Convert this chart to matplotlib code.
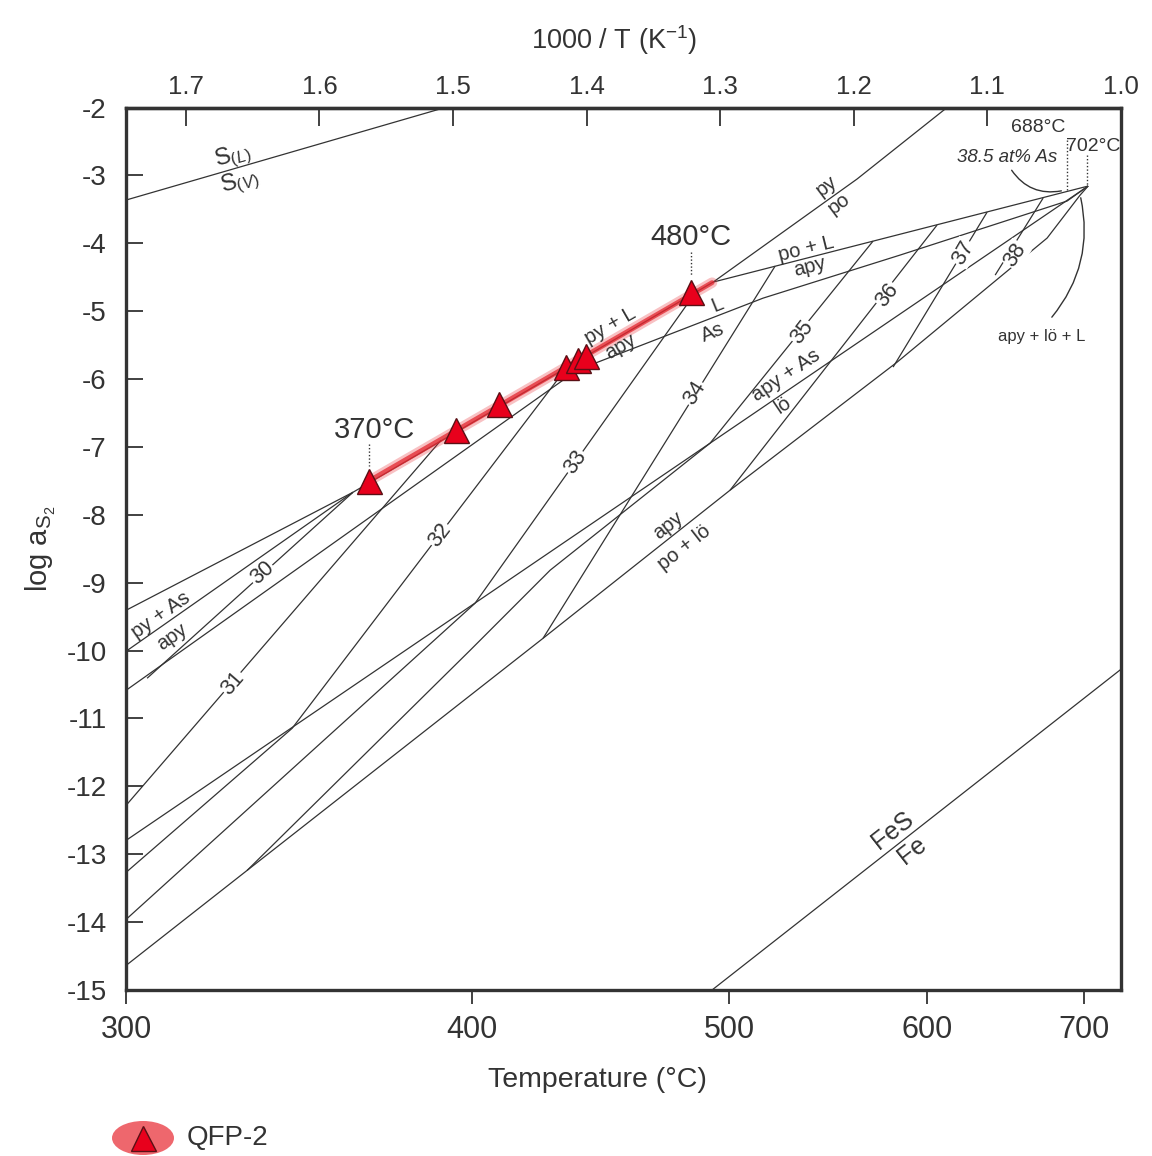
import matplotlib
matplotlib.use('Agg')
import matplotlib.pyplot as plt
from matplotlib.patches import Ellipse

plt.rcParams['font.family'] = ['Liberation Sans', 'DejaVu Sans']
plt.rcParams['axes.unicode_minus'] = False
plt.rcParams['mathtext.fontset'] = 'custom'
plt.rcParams['mathtext.rm'] = 'Liberation Sans'
plt.rcParams['mathtext.it'] = 'Liberation Sans:italic'

INK = '#333333'

# phase boundaries and isopleths, vertices as (1000/T [K^-1], log aS2)
s_liq_vap = [(1.7447, -3.363), (1.5059, -2.0)]
fes_fe = [(1.3061, -15.0), (1.0, -10.275)]
py_po = [(1.1302, -2.0), (1.1976, -3.054), (1.3053, -4.572)]
poL_apy = [(1.3053, -4.572), (1.0246, -3.157)]
pyL_apy = [(1.5748, -7.667), (1.3053, -4.572)]
line_a = [(1.7447, -9.406), (1.5748, -7.667)]
pyAs_apy = [(1.7447, -10.01), (1.5748, -7.667)]
L_As = [(1.7447, -10.585), (1.4071, -5.869), (1.2679, -4.808), (1.1654, -4.174),
        (1.0404, -3.378), (1.0246, -3.157)]
apyAs_lo = [(1.7447, -12.796), (1.0246, -3.157)]
apy_polo = [(1.7447, -14.638), (1.6541, -13.238), (1.4326, -9.819), (1.2926, -7.637),
            (1.1676, -5.751), (1.0553, -3.923), (1.0306, -3.290), (1.0246, -3.157)]

iso_30 = [(1.7290, -10.408), (1.5748, -7.667)]
iso_31 = [(1.7447, -12.280), (1.5089, -6.900)]
iso_32 = [(1.7447, -13.267), (1.6204, -11.145), (1.4146, -5.824)]
iso_33 = [(1.7447, -13.960), (1.4835, -9.303), (1.3188, -4.734)]
iso_34 = [(1.4326, -9.819), (1.2589, -4.336)]
iso_35 = [(1.6541, -13.238), (1.4872, -9.996), (1.4273, -8.816), (1.3076, -6.945),
          (1.1856, -3.968)]
iso_36 = [(1.2926, -7.637), (1.1377, -3.732)]
iso_37 = [(1.1706, -5.824), (1.1002, -3.540)]
iso_38 = [(1.0942, -4.469), (1.0583, -3.334)]

boundaries = [s_liq_vap, fes_fe, py_po, poL_apy, pyL_apy, line_a, pyAs_apy, L_As,
              apyAs_lo, apy_polo, iso_30, iso_31, iso_32, iso_33, iso_34, iso_35,
              iso_36, iso_37, iso_38]

# QFP-2 samples
qfp_temp = [366.7, 394.5, 409.2, 433.4, 437.9, 440.9, 483.4]
qfp_logs = [-7.50, -6.75, -6.37, -5.82, -5.72, -5.66, -4.72]
band_inv = [1.5628, 1.3061]
band_log = [-7.50, -4.58]

temp_ticks = [300, 400, 500, 600, 700]
inv_ticks = [1.0, 1.1, 1.2, 1.3, 1.4, 1.5, 1.6, 1.7]
y_ticks = list(range(-2, -16, -1))


def inv_t(t):
    return 1000.0 / (t + 273.15)


fig = plt.figure(figsize=(11.52, 11.56), dpi=100)
ax = fig.add_axes([0.1094, 0.1436, 0.8637, 0.7634])

for seg in boundaries:
    xs = [p[0] for p in seg]
    ys = [p[1] for p in seg]
    ax.plot(xs, ys, color=INK, lw=0.9, solid_capstyle='butt', zorder=2)

# red trend band
ax.plot(band_inv, band_log, color='#e8323a', lw=7.5, alpha=0.3, solid_capstyle='round', zorder=3)
ax.plot(band_inv, band_log, color='#e3262f', lw=3.5, alpha=0.75, solid_capstyle='round', zorder=3)

qx = [inv_t(t) for t in qfp_temp]
ax.plot(qx, qfp_logs, ls='none', marker='^', ms=18, mfc='#e8001c', mec='#5a1015',
        mew=1.0, zorder=5)

ax.set_xlim(inv_t(300), 1.0)
ax.set_ylim(-15, -2)

ax.set_xticks([inv_t(t) for t in temp_ticks])
ax.set_xticklabels([str(t) for t in temp_ticks])
ax.set_yticks(y_ticks)
ax.set_yticklabels([str(v) for v in y_ticks])
ax.tick_params(axis='x', direction='out', length=10, width=1.3, colors=INK,
               labelsize=22, pad=8, labelcolor=INK)
ax.tick_params(axis='y', direction='in', length=12, width=1.3, colors=INK,
               labelsize=20, pad=14, labelcolor=INK)
for side in ['left', 'bottom', 'top', 'right']:
    ax.spines[side].set_linewidth(2.4)
    ax.spines[side].set_color(INK)

top = ax.secondary_xaxis('top', functions=(lambda v: v, lambda v: v))
top.set_xticks(inv_ticks)
top.set_xticklabels([f'{v:.1f}' for v in inv_ticks])
top.tick_params(direction='in', length=13, width=1.3, colors=INK, labelsize=18.5, pad=6)
top.spines['top'].set_linewidth(2.4)
top.spines['top'].set_color(INK)
top.set_xlabel('1000 / T (K$^{-1}$)', fontsize=19.5, color=INK, labelpad=19)
top.xaxis.label.set_x(0.491)

ax.set_xlabel('Temperature (°C)', fontsize=20.5, color=INK, labelpad=16)
ax.xaxis.label.set_x(0.474)
ax.set_ylabel(r'log a$_{\mathregular{S_2}}$', fontsize=21, color=INK, labelpad=6)

# field labels along boundaries
def lab(x, y, s, rot, size=14.5, **kw):
    ax.text(x, y, s, rotation=rot, fontsize=size, color=INK, ha='center', va='center',
            rotation_mode='anchor', zorder=4, **kw)

lab(1.6646, -2.73, 'S$_{(L)}$', 16, size=17)
lab(1.6594, -3.11, 'S$_{(V)}$', 16, size=17)
lab(1.2207, -3.16, 'py', 37)
lab(1.2110, -3.41, 'po', 37)
lab(1.2357, -4.09, 'po + L', 14)
lab(1.2327, -4.35, 'apy', 14)
lab(1.3824, -5.21, 'py + L', 30)
lab(1.3749, -5.52, 'apy', 30)
lab(1.3023, -4.91, 'L', 22)
lab(1.3053, -5.32, 'As', 22)
lab(1.7190, -9.47, 'py + As', 35)
lab(1.7100, -9.80, 'apy', 35)
lab(1.2507, -5.94, 'apy + As', 34)
lab(1.2529, -6.38, 'lö', 34)
lab(1.3390, -8.15, 'apy', 38)
lab(1.3270, -8.49, 'po + lö', 38)
lab(1.1706, -12.65, 'FeS', 38, size=18)
lab(1.1564, -12.94, 'Fe', 38, size=18)

iso_labels = [('30', 1.6429, -8.86, 42), ('31', 1.6646, -10.48, 49), ('32', 1.5097, -8.30, 53),
              ('33', 1.4086, -7.22, 55), ('34', 1.3188, -6.21, 58), ('35', 1.2387, -5.31, 52),
              ('36', 1.1751, -4.76, 52), ('37', 1.1182, -4.14, 60), ('38', 1.0793, -4.17, 57)]
for s, x, y, r in iso_labels:
    lab(x, y, s, r, size=15.5,
        bbox=dict(boxstyle='square,pad=0.05', fc='white', ec='none'))

# temperature call-outs
ax.text(1.5591, -6.75, '370°C', fontsize=21, color=INK, ha='center', va='center', zorder=6)
ax.text(1.3218, -3.91, '480°C', fontsize=21, color=INK, ha='center', va='center', zorder=6)
ax.plot([qx[0], qx[0]], [-6.96, -7.28], color=INK, lw=1, ls=(0, (1, 1.5)), zorder=4)
ax.plot([qx[-1], qx[-1]], [-4.13, -4.47], color=INK, lw=1, ls=(0, (1, 1.5)), zorder=4)

ax.text(1.0621, -2.29, '688°C', fontsize=14, color=INK, ha='center', va='center')
ax.text(1.0209, -2.57, '702°C', fontsize=14, color=INK, ha='center', va='center', clip_on=False)
ax.text(1.0853, -2.73, '38.5 at% As', fontsize=13.5, color=INK, ha='center', va='center',
        style='italic')
ax.plot([inv_t(688), inv_t(688)], [-2.48, -3.22], color=INK, lw=1, ls=(0, (1, 1.5)))
ax.plot([inv_t(702), inv_t(702)], [-2.70, -3.14], color=INK, lw=1, ls=(0, (1, 1.5)))
ax.annotate('', xy=(1.0426, -3.22), xytext=(1.0830, -2.89),
            arrowprops=dict(arrowstyle='-', color=INK, lw=1,
                            connectionstyle='arc3,rad=0.35'))
ax.text(1.0591, -5.37, 'apy + lö + L', fontsize=12, color=INK, ha='center', va='center')
ax.annotate('', xy=(1.0306, -3.29), xytext=(1.0531, -5.12),
            arrowprops=dict(arrowstyle='-', color=INK, lw=1,
                            connectionstyle='arc3,rad=0.25'))

# legend
fig.patches.append(Ellipse((143 / 1152, 1 - 1138 / 1156), 62 / 1152, 34 / 1156,
                           transform=fig.transFigure, fc='#ec4c54', ec='none', alpha=0.85))
fig.lines.append(plt.Line2D([143 / 1152], [1 - 1138 / 1156], transform=fig.transFigure,
                            marker='^', ms=18, mfc='#e8001c', mec='#5a1015', mew=1.0, ls='none'))
fig.text(187 / 1152, 1 - 1138 / 1156, 'QFP-2', fontsize=20, color=INK, va='center', ha='left')

fig.savefig('out.png', dpi=100, facecolor='white')
